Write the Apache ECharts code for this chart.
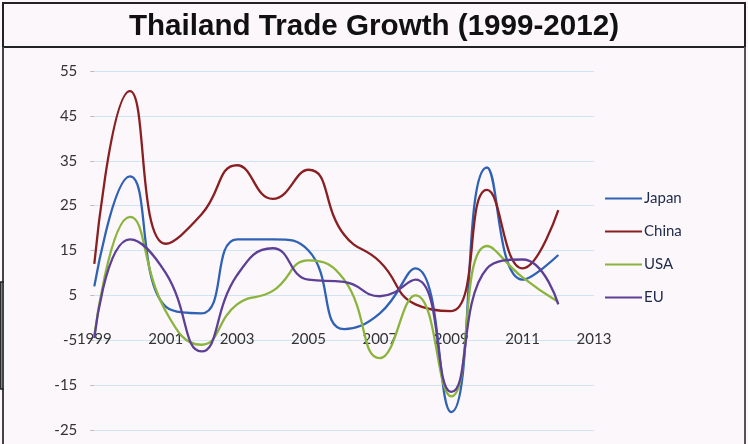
<!DOCTYPE html>
<html>
<head>
<meta charset="utf-8">
<script src="https://cdn.jsdelivr.net/npm/echarts@6/dist/echarts.min.js"></script>
<style>
html,body{margin:0;padding:0;background:#fcf7fb;}
#chart{width:748px;height:444px;}
</style>
</head>
<body>
<div id="chart"></div>
<script>
const years = ['1999','2000','2001','2002','2003','2004','2005','2006','2007','2008','2009','2010','2011','2012','2013'];
const yTicks = [-25, -15, -5, 5, 15, 25, 35, 45, 55];
const japan = [7, 31.5, 2.5, 1, 17.5, 17.5, 15, -2.5, 1, 11, -21, 33.5, 8.5, 14];
const china = [12, 50.5, 16.5, 23, 34, 26.5, 33, 18.5, 12.5, 3, 1.5, 28.5, 11, 24];
const usa   = [-4, 22.5, 1.5, -6, 3, 6, 12.8, 8.5, -9, 5, -17.5, 16, 9, 3.5];
const eu    = [-4.5, 17.5, 10, -7.5, 9.5, 15.5, 8.5, 8, 4.8, 8.5, -16.5, 11, 13, 3];

const seriesNames = ['Japan', 'China', 'USA', 'EU'];
const seriesData = [japan, china, usa, eu];
const colors = ['#2f62b5', '#8a1f22', '#8ab43c', '#5d3f95'];

const gridTop = 71, gridBottom = 14, H = 444;
const yMin = yTicks[0], yMax = yTicks[yTicks.length - 1];
const gridH = H - gridTop - gridBottom;
// horizontal axis crosses the vertical axis at value 0
const xAxisOffset = -((0 - yMin) / (yMax - yMin)) * gridH;

const chart = echarts.init(document.getElementById('chart'), null, {renderer: 'canvas'});
chart.setOption({
  backgroundColor: '#fcf7fb',
  animation: false,
  title: {
    text: 'Thailand Trade Growth (1999-2012)',
    left: 'center',
    top: 12,
    padding: 0,
    textStyle: {fontFamily: 'Liberation Sans', fontWeight: 'bold', fontSize: 29.6, color: '#111'}
  },
  legend: {
    orient: 'vertical',
    left: 605,
    top: 191,
    padding: 0,
    icon: 'rect',
    itemWidth: 37,
    itemHeight: 2.2,
    itemGap: 18,
    textStyle: {fontFamily: 'Lato', fontSize: 15, lineHeight: 15, color: '#1c2a48', padding: [0, 0, 0, -3]},
    data: seriesNames
  },
  grid: {left: 94.3, right: 154, top: gridTop, bottom: gridBottom, containLabel: false},
  xAxis: {
    type: 'category',
    data: years,
    boundaryGap: false,
    position: 'bottom',
    offset: xAxisOffset,
    axisLine: {show: false, onZero: false},
    axisTick: {show: false},
    splitLine: {show: false},
    axisLabel: {interval: 1, margin: 14, fontFamily: 'Lato', fontSize: 15, color: '#333'}
  },
  yAxis: {
    type: 'value',
    min: yMin,
    max: yMax,
    interval: yTicks[1] - yTicks[0],
    axisLine: {show: false},
    axisTick: {show: true, length: 4, lineStyle: {color: '#bbb'}},
    axisLabel: {margin: 17, fontFamily: 'Lato', fontSize: 15, color: '#333'},
    splitLine: {show: true, lineStyle: {color: '#cfe5f5', width: 1}}
  },
  series: seriesNames.map((n, i) => ({
    name: n,
    type: 'line',
    data: seriesData[i],
    smooth: 0.5,
    symbol: 'none',
    lineStyle: {width: 2.3, color: colors[i]},
    itemStyle: {color: colors[i]}
  })),
  graphic: [
    {type: 'rect', shape: {x: 3, y: 3, width: 742, height: 44}, style: {fill: 'none', stroke: '#222', lineWidth: 2}, silent: true},
    {type: 'line', shape: {x1: 3, y1: 47, x2: 3, y2: 444}, style: {stroke: '#444', lineWidth: 2}, silent: true},
    {type: 'line', shape: {x1: 745, y1: 47, x2: 745, y2: 444}, style: {stroke: '#555', lineWidth: 2}, silent: true},
    {type: 'polyline', shape: {points: [[4, 282], [0.8, 282], [0.8, 389], [4, 389]]}, style: {fill: 'none', stroke: '#222', lineWidth: 1.5}, silent: true}
  ]
});
</script>
</body>
</html>
